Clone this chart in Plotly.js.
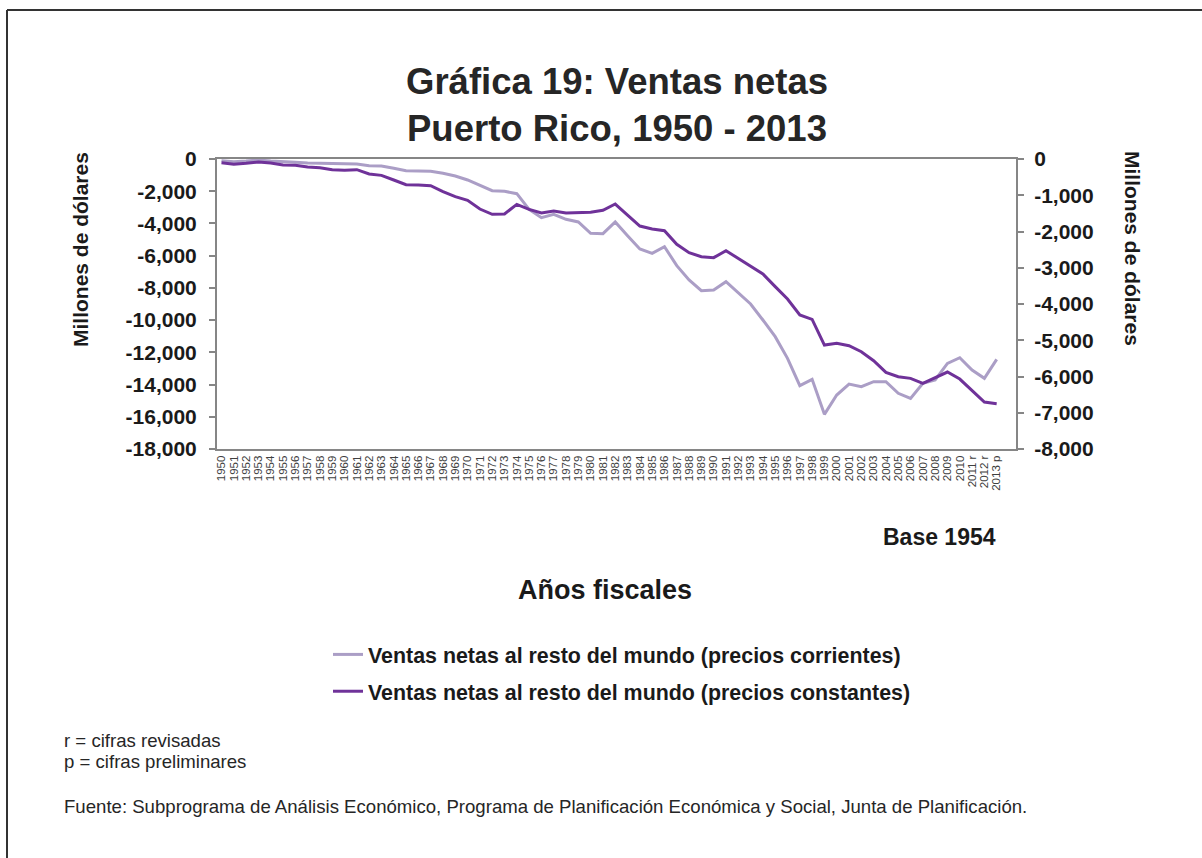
<!DOCTYPE html>
<html>
<head>
<meta charset="utf-8">
<script src="https://cdn.plot.ly/plotly-3.0.1.min.js"></script>
<style>html,body{margin:0;padding:0;background:#fff;}#chart{width:1202px;height:858px;}</style>
</head>
<body>
<div id="chart"></div>
<script>
// ---- Data ----
const years = ["1950","1951","1952","1953","1954","1955","1956","1957","1958","1959",
  "1960","1961","1962","1963","1964","1965","1966","1967","1968","1969",
  "1970","1971","1972","1973","1974","1975","1976","1977","1978","1979",
  "1980","1981","1982","1983","1984","1985","1986","1987","1988","1989",
  "1990","1991","1992","1993","1994","1995","1996","1997","1998","1999",
  "2000","2001","2002","2003","2004","2005","2006","2007","2008","2009",
  "2010","2011 r","2012 r","2013 p"];

// Ventas netas al resto del mundo (precios corrientes) - left axis
const corrientes = [-103,-166,-124,-62,-124,-186,-207,-248,-269,-290,
  -310,-310,-414,-434,-579,-724,-745,-765,-890,-1055,
  -1303,-1655,-1966,-2007,-2152,-3124,-3641,-3434,-3745,-3910,
  -4614,-4635,-3910,-4759,-5586,-5855,-5441,-6621,-7510,-8172,
  -8131,-7614,-8338,-9000,-9993,-11028,-12373,-14070,-13676,-15849,
  -14649,-13966,-14131,-13821,-13821,-14545,-14856,-13924,-13717,-12683,
  -12332,-13097,-13614,-12435];

// Ventas netas al resto del mundo (precios constantes, base 1954) - right axis
const constantes = [-101,-147,-120,-83,-110,-166,-175,-221,-239,-294,
  -313,-294,-414,-451,-579,-708,-717,-736,-901,-1039,
  -1140,-1380,-1527,-1517,-1251,-1389,-1490,-1435,-1490,-1471,
  -1471,-1416,-1242,-1545,-1849,-1931,-1977,-2354,-2584,-2695,
  -2722,-2529,-2741,-2952,-3173,-3522,-3863,-4304,-4424,-5132,
  -5086,-5150,-5316,-5564,-5886,-6005,-6051,-6189,-6033,-5877,
  -6070,-6392,-6704,-6750];

const leftTickVals = [0,-2000,-4000,-6000,-8000,-10000,-12000,-14000,-16000,-18000];
const leftTickText = ["0","-2,000","-4,000","-6,000","-8,000","-10,000","-12,000","-14,000","-16,000","-18,000"];
const rightTickVals = [0,-1000,-2000,-3000,-4000,-5000,-6000,-7000,-8000];
const rightTickText = ["0","-1,000","-2,000","-3,000","-4,000","-5,000","-6,000","-7,000","-8,000"];

const seriesNames = ["Ventas netas al resto del mundo (precios corrientes)",
                     "Ventas netas al resto del mundo (precios constantes)"];

// ---- Layout helpers ----
const W = 1202, H = 858;
const L = 217, R = 1016, T = 159, B = 449;
const px = x => (x - L) / (R - L);
const py = y => (B - y) / (B - T);

const FONT = "Liberation Sans, Arial, Helvetica, sans-serif";
const AXC = "#868686";

const traces = [
  {x: years, y: corrientes, type: "scatter", mode: "lines", name: seriesNames[0],
   line: {color: "#ab9ec6", width: 3}, yaxis: "y", legendgroup: "a"},
  {x: years, y: constantes, type: "scatter", mode: "lines", name: seriesNames[1],
   line: {color: "#6f3299", width: 3}, yaxis: "y2", legendgroup: "b"}
];

const annFont = (size, bold, color) => ({family: FONT, size: size, weight: bold ? "bold" : "normal", color: color || "#1a1a1a"});

const layout = {
  width: W, height: H, autosize: false,
  margin: {l: L, r: W - R, t: T, b: H - B, pad: 0, autoexpand: false},
  paper_bgcolor: "#ffffff", plot_bgcolor: "#ffffff",
  font: {family: FONT, color: "#1a1a1a"},
  title: {
    text: "Gráfica 19: Ventas netas<br>Puerto Rico, 1950 - 2013",
    font: {family: FONT, size: 36.5, weight: "bold", color: "#262626"},
    xref: "container", yref: "container", x: 617 / W, xanchor: "center",
    y: 1 - 94 / H, yanchor: "top", automargin: false
  },
  xaxis: {
    type: "category", range: [-0.366, 64.57],
    tickmode: "array", tickvals: years, ticktext: years,
    showline: true, linecolor: AXC, linewidth: 2, mirror: true,
    ticks: "", tickangle: -90, showgrid: false, zeroline: false, automargin: false,
    tickfont: {family: FONT, size: 11.5, color: "#404040"}
  },
  yaxis: {
    range: [-18000, 0], tickvals: leftTickVals, ticktext: leftTickText,
    showline: true, linecolor: AXC, linewidth: 2, automargin: false,
    ticks: "outside", ticklen: 6, tickwidth: 2, tickcolor: AXC,
    showgrid: false, zeroline: false, ticklabelstandoff: 8,
    tickfont: {family: FONT, size: 21, weight: "bold", color: "#1a1a1a"}
  },
  yaxis2: {
    range: [-8000, 0], tickvals: rightTickVals, ticktext: rightTickText,
    overlaying: "y", side: "right", automargin: false,
    showline: true, linecolor: AXC, linewidth: 2,
    ticks: "outside", ticklen: 6, tickwidth: 2, tickcolor: AXC,
    showgrid: false, zeroline: false, ticklabelstandoff: 6,
    tickfont: {family: FONT, size: 21, weight: "bold", color: "#1a1a1a"}
  },
  showlegend: true,
  legend: {
    xref: "container", yref: "container", x: 328 / W, y: 1 - 634 / H,
    xanchor: "left", yanchor: "top", orientation: "v",
    traceorder: "grouped", tracegroupgap: 6,
    bgcolor: "rgba(0,0,0,0)",
    font: {family: FONT, size: 21.4, weight: "bold", color: "#1a1a1a"}
  },
  annotations: [
    {text: "Millones de dólares", textangle: -90, x: px(80), y: py(250), xref: "paper", yref: "paper",
     xanchor: "center", yanchor: "middle", showarrow: false, font: annFont(21, true)},
    {text: "Millones de dólares", textangle: 90, x: px(1133), y: py(248), xref: "paper", yref: "paper",
     xanchor: "center", yanchor: "middle", showarrow: false, font: annFont(21, true)},
    {text: "Base 1954", x: px(998), y: py(537), xref: "paper", yref: "paper",
     xanchor: "right", yanchor: "middle", showarrow: false, font: annFont(23, true)},
    {text: "Años fiscales", x: px(605), y: py(590), xref: "paper", yref: "paper",
     xanchor: "center", yanchor: "middle", showarrow: false, font: annFont(27, true)},
    {text: "r = cifras revisadas", x: px(62), y: py(740), xref: "paper", yref: "paper",
     xanchor: "left", yanchor: "middle", showarrow: false, font: annFont(18.6, false, "#262626")},
    {text: "p = cifras preliminares", x: px(62), y: py(761), xref: "paper", yref: "paper",
     xanchor: "left", yanchor: "middle", showarrow: false, font: annFont(18.6, false, "#262626")},
    {text: "Fuente: Subprograma de Análisis Económico, Programa de Planificación Económica y Social, Junta de Planificación.",
     x: px(62), y: py(806), xref: "paper", yref: "paper",
     xanchor: "left", yanchor: "middle", showarrow: false, font: annFont(18.6, false, "#262626")}
  ],
  shapes: [
    {type: "line", xref: "paper", yref: "paper", x0: px(7), x1: px(1202), y0: py(10), y1: py(10),
     line: {color: "#333333", width: 2}},
    {type: "line", xref: "paper", yref: "paper", x0: px(7), x1: px(7), y0: py(10), y1: py(858),
     line: {color: "#333333", width: 2}}
  ]
};

Plotly.newPlot("chart", traces, layout, {displayModeBar: false, staticPlot: true});
</script>
</body>
</html>
